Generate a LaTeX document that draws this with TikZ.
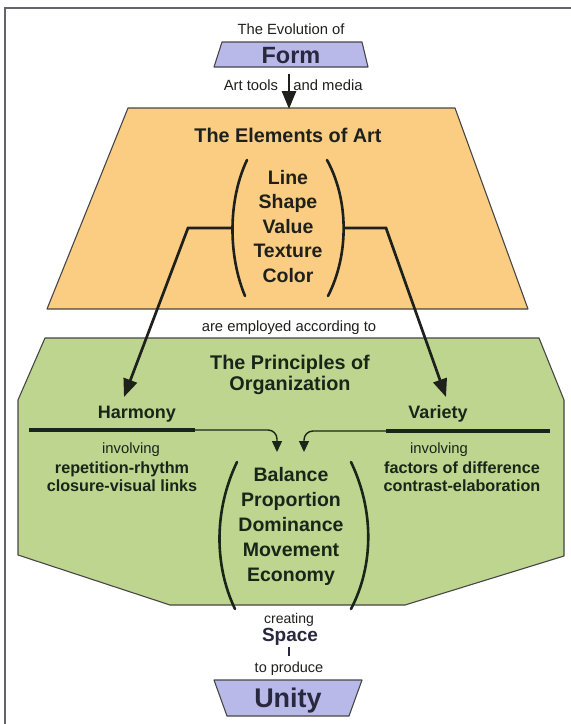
\documentclass[tikz,border=0pt]{standalone}
\usepackage{fontspec}
\setmainfont{Liberation Sans}
\usetikzlibrary{arrows.meta}
\definecolor{lavfill}{RGB}{185,185,233}
\definecolor{orangefill}{RGB}{250,205,130}
\definecolor{greenfill}{RGB}{190,213,143}
\definecolor{edgegray}{RGB}{70,70,70}
\definecolor{framegray}{RGB}{100,100,110}
\definecolor{inkdark}{RGB}{30,32,28}
\definecolor{inknavy}{RGB}{40,40,62}
\definecolor{inkgreen}{RGB}{22,38,24}
\begin{document}
\begin{tikzpicture}[x=1pt,y=-1pt,
  panel/.style={draw=edgegray,line width=1.1pt,line join=round},
  plain/.style={text=inkdark,font=\fontsize{14.8}{17}\selectfont,anchor=mid,inner sep=0pt,yshift=-3.7pt},
  heading/.style={text=inkdark,font=\bfseries\fontsize{19.8}{22}\selectfont,anchor=mid,inner sep=0pt,yshift=-4.5pt},
  listitem/.style={text=inkdark,font=\bfseries\fontsize{19.5}{22}\selectfont,anchor=mid,inner sep=0pt,yshift=-4.5pt},
  subhead/.style={text=inkgreen,font=\bfseries\fontsize{18}{20}\selectfont,anchor=mid,inner sep=0pt,yshift=-4pt},
  detail/.style={text=inkgreen,font=\bfseries\fontsize{16.2}{18}\selectfont,anchor=mid,inner sep=0pt,yshift=-3.5pt},
  bigword/.style={text=inknavy,font=\bfseries\fontsize{23.5}{26}\selectfont,anchor=mid,inner sep=0pt,yshift=-5.5pt},
  bracket/.style={draw=inkdark,line width=2.6pt,line cap=round},
  bigarrow/.style={draw=inkdark,line width=2.7pt,-{Triangle[length=18pt,width=14pt]}},
  smallarrow/.style={draw=inkgreen,line width=1.4pt,rounded corners=9pt,-{Triangle[length=11pt,width=10pt]}},
  thickbar/.style={draw=inkgreen,line width=4.5pt}]
\useasboundingbox (0,0) rectangle (571,724);

% outer frame, open at the bottom and right
\draw[framegray,line width=1.4pt] (5,724) -- (5,8) -- (571,8);

% ---- Form ----
\node[plain] (evol) at (291,28) {The Evolution of};
\draw[panel,fill=lavfill] (222,42) -- (362,42) -- (368,67) -- (214,67) -- cycle;
\node[bigword] (form) at (291,55) {Form};
\node[plain] (tools) at (251,84) {Art tools};
\node[plain] (media) at (328,84) {and media};
\coordinate (formfoot) at (289,74);
\coordinate (elemtop) at (289,109);

% ---- Elements of Art ----
\draw[panel,fill=orangefill] (128,108) -- (455,108) -- (528,309) -- (47,309) -- cycle;
\draw[bigarrow] (formfoot) -- (elemtop);
\node[heading] (elements) at (288,135) {The Elements of Art};
\node[listitem] (line)    at (288,177) {Line};
\node[listitem] (shape)   at (288,201) {Shape};
\node[listitem] (value)   at (288,226) {Value};
\node[listitem] (texture) at (288,250) {Texture};
\node[listitem] (color)   at (288,275) {Color};
\draw[bracket] (247,160) .. controls (228,200) and (228,255) .. (245,296);
\draw[bracket] (327,160) .. controls (349,200) and (349,255) .. (328,296);
\coordinate (elemL) at (233,228);
\coordinate (elemR) at (344,228);
\coordinate (bendL) at (188,228);
\coordinate (bendR) at (386,228);

\node[plain] (employed) at (289,325) {are employed according to};

% ---- Principles of Organization ----
\draw[panel,fill=greenfill] (45,338) -- (539,338) -- (564,400) -- (564,556) -- (405,605)
  -- (170,605) -- (18,555) -- (18,400) -- cycle;
\node[heading,text=inkgreen] (principles) at (290,362) {The Principles of};
\node[heading,text=inkgreen] (organization) at (290,383) {Organization};

\coordinate (harmtip) at (124,397);
\coordinate (vartip) at (446,397);
\draw[bigarrow] (elemL) -- (bendL) -- (harmtip);
\draw[bigarrow] (elemR) -- (bendR) -- (vartip);

\node[subhead] (harmony) at (137,412) {Harmony};
\node[subhead] (variety) at (438,412) {Variety};

\coordinate (hbarA) at (29,430);
\coordinate (hbarB) at (195,430);
\coordinate (vbarA) at (386,431);
\coordinate (vbarB) at (550,431);
\draw[thickbar] (hbarA) -- (hbarB);
\draw[thickbar] (vbarA) -- (vbarB);
\coordinate (htip) at (277,452);
\coordinate (vtip) at (304,452);
\draw[smallarrow] (hbarB) -| (htip);
\draw[smallarrow] (vbarA) -| (vtip);

\node[plain,text=inkgreen] (invH) at (131,447) {involving};
\node[detail] (rep) at (122,467) {repetition-rhythm};
\node[detail] (clo) at (122,485) {closure-visual links};
\node[plain,text=inkgreen] (invV) at (439,447) {involving};
\node[detail] (fac) at (462,467) {factors of difference};
\node[detail] (con) at (462,485) {contrast-elaboration};

\node[listitem,text=inkgreen] (balance)    at (291,474) {Balance};
\node[listitem,text=inkgreen] (proportion) at (291,499) {Proportion};
\node[listitem,text=inkgreen] (dominance)  at (291,524) {Dominance};
\node[listitem,text=inkgreen] (movement)   at (291,549) {Movement};
\node[listitem,text=inkgreen] (economy)    at (291,574) {Economy};
\draw[bracket,draw=inkgreen] (237,462) .. controls (214,510) and (214,565) .. (235,609);
\draw[bracket,draw=inkgreen] (351,462) .. controls (374,510) and (374,565) .. (351,609);

% ---- Space and Unity ----
\node[plain,font=\fontsize{14}{16}\selectfont] (creating) at (289,617) {creating};
\node[subhead,text=inknavy,font=\bfseries\fontsize{19}{21}\selectfont] (space) at (290,635) {Space};
\coordinate (stubtop) at (289,647);
\coordinate (stubbot) at (289,656);
\draw[inknavy,line width=2.6pt] (stubtop) -- (stubbot);
\node[plain,font=\fontsize{14.5}{16}\selectfont] (produce) at (289,666) {to produce};
\draw[panel,fill=lavfill] (214,680) -- (362,680) -- (349,716) -- (227,716) -- cycle;
\node[bigword,font=\bfseries\fontsize{27}{30}\selectfont] (unity) at (288,699) {Unity};
\end{tikzpicture}
\end{document}
